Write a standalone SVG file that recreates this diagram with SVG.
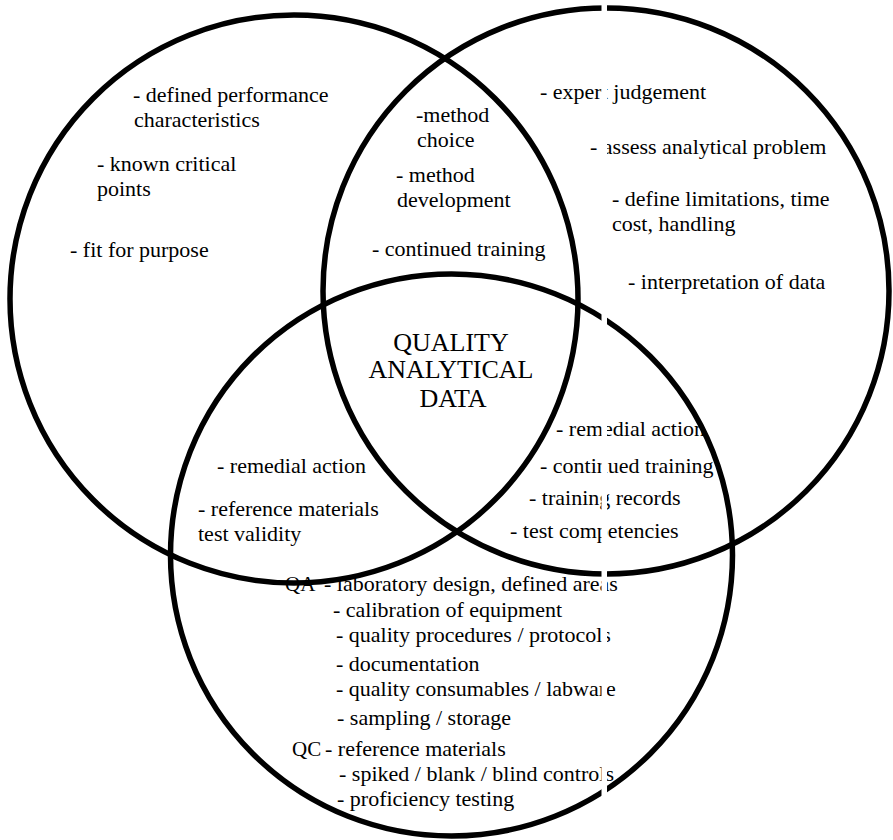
<svg xmlns="http://www.w3.org/2000/svg" width="893" height="840" viewBox="0 0 893 840">
  <style>
    .ring { fill: none; stroke: #000; stroke-width: 5.5; }
    .t { font-family: "Liberation Serif", "Times New Roman", serif; font-size: 22px; fill: #000; }
    .tag { font-family: "Liberation Serif", "Times New Roman", serif; font-size: 21px; fill: #000; }
    .title { font-family: "Liberation Serif", "Times New Roman", serif; font-size: 26px; fill: #000; text-anchor: middle; }
  </style>
  <rect x="0" y="0" width="893" height="840" fill="#fff"/>

  <!-- three overlapping sets -->
  <g id="set-method">
    <circle class="ring" cx="294" cy="299" r="284"/>
    <text class="t" x="133" y="102">- defined performance</text>
    <text class="t" x="134" y="126.5">characteristics</text>
    <text class="t" x="97" y="171">- known critical</text>
    <text class="t" x="97" y="195.5">points</text>
    <text class="t" x="70" y="257">- fit for purpose</text>
  </g>

  <g id="set-analyst">
    <circle class="ring" cx="606" cy="291" r="283"/>
    <text class="t" x="540" y="99">- expert judgement</text>
    <text class="t" x="590" y="154">- assess analytical problem</text>
    <text class="t" x="612" y="206">- define limitations, time</text>
    <text class="t" x="612" y="230.5">cost, handling</text>
    <text class="t" x="628" y="289">- interpretation of data</text>
  </g>

  <g id="set-laboratory">
    <circle class="ring" cx="451.5" cy="555" r="281"/>
    <text class="tag" x="285" y="591">QA</text>
    <text class="t" x="324" y="591">- laboratory design, defined areas</text>
    <text class="t" x="333" y="617">- calibration of equipment</text>
    <text class="t" x="336" y="641.5">- quality procedures / protocols</text>
    <text class="t" x="336" y="671">- documentation</text>
    <text class="t" x="336" y="696">- quality consumables / labware</text>
    <text class="t" x="337" y="725">- sampling / storage</text>
    <text class="tag" x="292" y="756">QC</text>
    <text class="t" x="325" y="756">- reference materials</text>
    <text class="t" x="339" y="780.5">- spiked / blank / blind controls</text>
    <text class="t" x="337" y="806">- proficiency testing</text>
  </g>

  <!-- pairwise overlaps -->
  <g id="overlap-method-analyst">
    <text class="t" x="416" y="122">-method</text>
    <text class="t" x="417" y="146.5">choice</text>
    <text class="t" x="396" y="182">- method</text>
    <text class="t" x="397" y="206.5">development</text>
    <text class="t" x="372" y="256">- continued training</text>
  </g>

  <g id="overlap-method-laboratory">
    <text class="t" x="217" y="473">- remedial action</text>
    <text class="t" x="198" y="516">- reference materials</text>
    <text class="t" x="198" y="541">test validity</text>
  </g>

  <g id="overlap-analyst-laboratory">
    <text class="t" x="556" y="436">- remedial action</text>
    <text class="t" x="540" y="473">- continued training</text>
    <text class="t" x="529" y="505">- training records</text>
    <text class="t" x="510" y="538">- test competencies</text>
  </g>

  <!-- centre -->
  <g id="centre">
    <text class="title" x="451" y="351">QUALITY</text>
    <text class="title" x="451" y="378">ANALYTICAL</text>
    <text class="title" x="453" y="407">DATA</text>
  </g>

  <!-- blank vertical band across the sheet -->
  <rect x="601.5" y="0" width="5.5" height="840" fill="#fff"/>
</svg>
